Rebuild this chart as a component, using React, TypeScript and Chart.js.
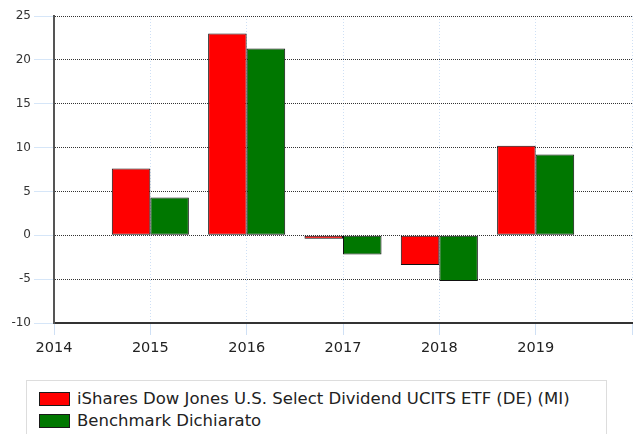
import React, { useEffect, useRef } from "react";
import { Chart, registerables } from "chart.js";

Chart.register(...registerables);

const years: string[] = ["2014", "2015", "2016", "2017", "2018", "2019", "2020"];
const etfValues: (number | null)[] = [null, 7.6, 23.0, -0.4, -3.4, 10.2, null];
const benchmarkValues: (number | null)[] = [null, 4.3, 21.3, -2.2, -5.2, 9.2, null];
const seriesNames: string[] = [
  "iShares Dow Jones U.S. Select Dividend UCITS ETF (DE) (MI)",
  "Benchmark Dichiarato",
];
const seriesColors: string[] = ["#ff0000", "#007700"];

const FONT = "'DejaVu Sans', Verdana, sans-serif";

export default function App() {
  const canvasRef = useRef<HTMLCanvasElement | null>(null);

  useEffect(() => {
    if (!canvasRef.current) return;
    const chart = new Chart(canvasRef.current, {
      type: "bar",
      data: {
        labels: years,
        datasets: [
          {
            label: seriesNames[0],
            data: etfValues,
            backgroundColor: seriesColors[0],
            borderColor: "#111111",
            borderWidth: 1,
            borderSkipped: false,
          },
          {
            label: seriesNames[1],
            data: benchmarkValues,
            backgroundColor: seriesColors[1],
            borderColor: "#111111",
            borderWidth: 1,
            borderSkipped: false,
          },
        ],
      },
      options: {
        animation: false,
        responsive: false,
        events: [],
        layout: { padding: { top: 16, right: 1, left: 0, bottom: 0 } },
        datasets: { bar: { categoryPercentage: 0.8, barPercentage: 1.0 } },
        plugins: { legend: { display: false }, tooltip: { enabled: false } },
        scales: {
          x: {
            type: "category",
            offset: false,
            grid: {
              offset: false,
              color: "#cfe0f5",
              lineWidth: 1,
              tickColor: "#cfe0f5",
              tickLength: 12,
            },
            border: { display: true, color: "#333333", width: 2, dash: [1, 2] },
            ticks: {
              color: "#222222",
              font: { family: FONT, size: 14.5 },
              padding: 5,
              maxRotation: 0,
              autoSkip: false,
              callback: (v: any, i: number) => (i === years.length - 1 ? "" : years[i]),
            },
            afterFit: (scale: any) => {
              scale.height = 47;
            },
          },
          y: {
            min: -10,
            max: 25,
            grid: {
              color: "#333333",
              lineWidth: 1,
              tickColor: "#d6e6f8",
              tickLength: 20,
            },
            border: { display: true, color: "#555555", width: 2, dash: [1, 1] },
            ticks: {
              stepSize: 5,
              color: "#333333",
              font: { family: FONT, size: 12 },
              padding: 3,
            },
            afterFit: (scale: any) => {
              scale.width = 54;
            },
          },
        },
      },
    });
    return () => chart.destroy();
  }, []);

  const rows = seriesNames.map((name, i) => (
    <div
      key={name}
      style={{
        position: "absolute",
        left: 12,
        top: 9 + i * 22,
        display: "flex",
        alignItems: "center",
        whiteSpace: "nowrap",
      }}
    >
      <span
        style={{
          display: "inline-block",
          width: 29,
          height: 12,
          background: seriesColors[i],
          border: "1px solid #1a1a1a",
          marginRight: 7,
        }}
      />
      <span style={{ fontFamily: FONT, fontSize: 16.5, color: "#222", lineHeight: "18px" }}>{name}</span>
    </div>
  ));

  return (
    <div
      style={{
        position: "absolute",
        left: 0,
        top: 0,
        width: 637,
        height: 434,
        background: "#ffffff",
        overflow: "hidden",
      }}
    >
      <canvas ref={canvasRef} width={637} height={370} style={{ display: "block" }} />
      <div
        style={{
          position: "absolute",
          left: 26,
          top: 380,
          width: 581,
          height: 70,
          border: "1px solid #dddddd",
          boxSizing: "border-box",
        }}
      >
        {rows}
      </div>
    </div>
  );
}
